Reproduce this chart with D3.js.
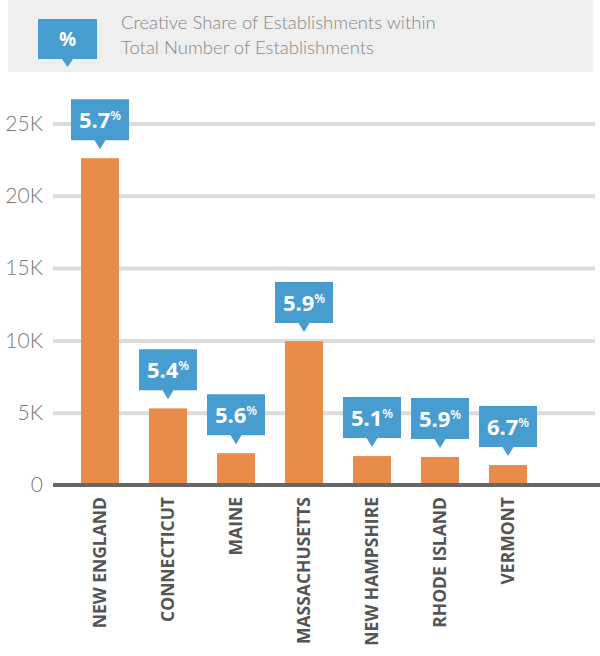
<!DOCTYPE html>
<html>
<head>
<meta charset="utf-8">
<script src="https://cdn.jsdelivr.net/npm/d3@7"></script>
<style>
  body { margin: 0; background: #fff; }
  svg { display: block; }
</style>
</head>
<body>
<svg id="chart" width="600" height="656"></svg>
<script>
// data
let states = ["NEW ENGLAND", "CONNECTICUT", "MAINE", "MASSACHUSETTS", "NEW HAMPSHIRE", "RHODE ISLAND", "VERMONT"];
let establishments = [22600, 5300, 2200, 9950, 2000, 1940, 1380];
let creativeShare = ["5.7", "5.4", "5.6", "5.9", "5.1", "5.9", "6.7"];
let yTicks = [0, 5000, 10000, 15000, 20000, 25000];
let legendTitle = ["Creative Share of Establishments within", "Total Number of Establishments"];

let orange = "#E98B4A";
let blue = "#479DCF";

let svg = d3.select("#chart");

// legend band
svg.append("rect")
    .attr("x", 8).attr("y", 0)
    .attr("width", 585).attr("height", 72)
    .attr("fill", "#efefef");

function calloutPath(w, h, tipW, tipH) {
    // tip at (0,0), box above
    let x0 = -w / 2, x1 = w / 2, yb = -tipH, yt = -tipH - h;
    return "M" + x0 + "," + yt + "H" + x1 + "V" + yb +
        "H" + (tipW / 2) + "L0,0L" + (-tipW / 2) + "," + yb +
        "H" + x0 + "Z";
}

let legendMark = svg.append("g").attr("transform", "translate(67.5,67)");
legendMark.append("path")
    .attr("d", calloutPath(59, 40, 11, 8))
    .attr("fill", blue);
legendMark.append("text")
    .attr("y", -21)
    .attr("text-anchor", "middle")
    .attr("fill", "#fff")
    .style("font-family", "'Open Sans', sans-serif")
    .style("font-weight", "bold")
    .style("font-size", "19px")
    .text("%");

svg.append("g")
    .selectAll("text")
    .data(legendTitle)
    .enter().append("text")
    .attr("x", 121)
    .attr("y", (d, i) => 29 + i * 25)
    .attr("fill", "#888")
    .style("font-family", "Lato, sans-serif")
    .style("font-weight", "300")
    .style("font-size", "18.5px")
    .text(d => d);

// scales
let xScale = d3.scaleBand()
    .domain(states)
    .range([66, 542])
    .paddingInner(0.441)
    .paddingOuter(0.2205);

let yScale = d3.scaleLinear()
    .domain([0, 25000])
    .range([485, 123.5]);

let gridLeft = 53, gridRight = 595;

// y axis with gridlines
let yAxis = d3.axisLeft(yScale)
    .tickValues(yTicks)
    .tickSize(-(gridRight - gridLeft))
    .tickPadding(10)
    .tickFormat(d => d === 0 ? "0" : (d / 1000) + "K");

let yG = svg.append("g")
    .attr("transform", "translate(" + gridLeft + ",0)")
    .call(yAxis);
yG.select(".domain").remove();
yG.selectAll(".tick line")
    .attr("stroke", "#dcdcdc")
    .attr("stroke-width", 4)
    .attr("display", d => d === 0 ? "none" : null);
yG.selectAll(".tick text")
    .attr("fill", "#7a7a7a")
    .style("font-family", "Lato, sans-serif")
    .style("font-weight", "300")
    .style("font-size", "21px");

// bars
svg.append("g")
    .selectAll("rect")
    .data(states)
    .enter().append("rect")
    .attr("x", d => xScale(d))
    .attr("y", (d, i) => yScale(establishments[i]))
    .attr("width", xScale.bandwidth())
    .attr("height", (d, i) => yScale(0) - yScale(establishments[i]))
    .attr("fill", orange);

// baseline
svg.append("line")
    .attr("x1", 53).attr("x2", 600)
    .attr("y1", yScale(0)).attr("y2", yScale(0))
    .attr("stroke", "#666")
    .attr("stroke-width", 4);

// x axis labels
let xAxis = d3.axisBottom(xScale).tickSize(0).tickPadding(0);
let xG = svg.append("g")
    .attr("transform", "translate(0," + (yScale(0) + 12) + ")")
    .call(xAxis);
xG.select(".domain").remove();
xG.selectAll(".tick text")
    .attr("transform", "rotate(-90)")
    .attr("text-anchor", "end")
    .attr("x", 0)
    .attr("y", 0)
    .attr("dy", "0.35em")
    .attr("fill", "#555")
    .style("font-family", "'Open Sans', sans-serif")
    .style("font-weight", "bold")
    .style("font-size", "17.5px");

// callouts
let callouts = svg.append("g")
    .selectAll("g")
    .data(states)
    .enter().append("g")
    .attr("transform", (d, i) => "translate(" + (xScale(d) + xScale.bandwidth() / 2) + "," + (yScale(establishments[i]) - 9) + ")");

callouts.append("path")
    .attr("d", calloutPath(58, 41, 11, 9))
    .attr("fill", blue);

let labels = callouts.append("text")
    .attr("y", -21)
    .attr("text-anchor", "middle")
    .attr("fill", "#fff")
    .style("font-family", "'Open Sans', sans-serif")
    .style("font-weight", "bold");
labels.append("tspan")
    .style("font-size", "22px")
    .text((d, i) => creativeShare[i]);
labels.append("tspan")
    .attr("dy", -8)
    .style("font-size", "12.5px")
    .style("font-weight", "600")
    .text("%");
</script>
</body>
</html>
